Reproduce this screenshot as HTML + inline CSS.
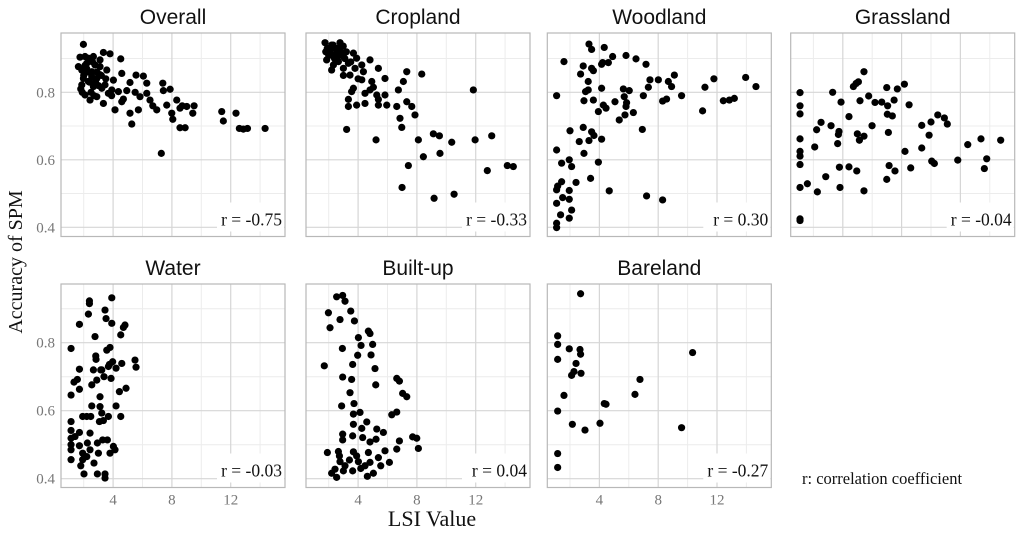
<!DOCTYPE html>
<html><head><meta charset="utf-8"><style>
html,body{margin:0;padding:0;background:#fff;width:1024px;height:537px;overflow:hidden}
svg{display:block}
</style></head><body>
<svg id="chart" width="1024" height="537" viewBox="0 0 1024 537" xmlns="http://www.w3.org/2000/svg">
<text x="0" y="0" transform="translate(22,262) rotate(-90)" text-anchor="middle" font-family="Liberation Serif, serif" font-size="20" fill="#111">Accuracy of SPM</text>
<text x="432" y="526" text-anchor="middle" font-family="Liberation Serif, serif" font-size="22" fill="#111">LSI Value</text>
<text x="802" y="484" font-family="Liberation Serif, serif" font-size="16.5" fill="#111">r: correlation coefficient</text>
</svg>
<script>
const panelNames = ["Overall","Cropland","Woodland","Grassland","Water","Built-up","Bareland"];
const rValues = ["-0.75","-0.33","0.30","-0.04","-0.03","0.04","-0.27"];
const xTicks = [4,8,12];
const xMinor = [2,6,10,14];
const yTicks = [0.4,0.6,0.8];
const yTickLabels = ["0.4","0.6","0.8"];
const yMinor = [0.5,0.7,0.9];

const overallX = [1.98,1.75,2.66,3.34,3.79,4.52,2.21,3.11,1.87,2.55,3.57,4.59,1.98,2.89,4.02,5.56,6.06,1.87,2.66,3.45,5.15,6.29,2.09,2.89,3.68,4.36,4.93,5.83,6.29,7.38,7.42,7.88,8.33,9.01,9.51,9.42,8.55,7.99,7.65,6.97,6.51,5.72,5.15,5.27,4.13,3.34,4.59,2.43,8.55,8.90,8.06,7.28,11.39,11.50,12.36,12.59,12.86,13.14,14.34,1.64,2.32,2.77,3.11,2.32,3.23,3.91,3.11,2.09,2.55,2.2,2.4,2.9,3.0,2.0,2.6,3.5,3.9,4.7,5.5,6.7,8.7,1.8,2.1,2.5,2.8,3.2,1.9,2.3,2.7];
const overallY = [0.942,0.904,0.906,0.918,0.914,0.899,0.886,0.876,0.866,0.861,0.866,0.856,0.841,0.841,0.836,0.851,0.848,0.822,0.817,0.822,0.829,0.827,0.792,0.787,0.797,0.802,0.805,0.787,0.797,0.827,0.805,0.809,0.777,0.758,0.760,0.738,0.753,0.738,0.762,0.748,0.777,0.748,0.738,0.706,0.748,0.767,0.772,0.777,0.695,0.695,0.720,0.619,0.743,0.715,0.738,0.693,0.691,0.693,0.693,0.876,0.901,0.881,0.852,0.832,0.812,0.807,0.896,0.906,0.846,0.87,0.83,0.86,0.82,0.85,0.89,0.84,0.79,0.78,0.80,0.76,0.76,0.81,0.88,0.80,0.83,0.85,0.80,0.86,0.79];

const croplandX = [1.75,2.77,2.09,2.54,3.00,1.86,2.32,3.68,3.90,4.81,4.25,2.20,3.00,3.79,4.36,5.38,3.45,4.25,4.93,5.83,3.68,4.81,3.56,4.47,5.27,5.83,6.74,7.08,7.31,8.33,3.34,3.90,3.34,4.47,5.38,5.95,6.63,7.31,7.65,7.87,6.85,6.97,3.22,5.22,8.10,9.12,9.53,10.37,11.96,13.09,8.44,9.57,7.42,6.99,9.17,10.53,11.84,12.79,14.15,14.56,2.99,2.32,2.66,3.34,5.04,5.38,2.0,2.5,3.2,2.2,4.0,3.0,1.9,2.1,2.4,2.6,2.8,3.1,3.5,1.8,2.3,2.7];
const croplandY = [0.947,0.947,0.925,0.916,0.906,0.896,0.881,0.916,0.901,0.896,0.881,0.866,0.871,0.871,0.861,0.871,0.851,0.837,0.832,0.841,0.812,0.807,0.802,0.797,0.792,0.792,0.807,0.832,0.861,0.854,0.779,0.762,0.758,0.767,0.762,0.762,0.758,0.772,0.758,0.733,0.723,0.696,0.690,0.659,0.659,0.677,0.671,0.652,0.659,0.671,0.609,0.619,0.583,0.518,0.486,0.498,0.807,0.568,0.583,0.580,0.937,0.906,0.891,0.886,0.815,0.779,0.91,0.93,0.92,0.94,0.84,0.85,0.93,0.92,0.90,0.93,0.92,0.90,0.89,0.92,0.94,0.91];

const woodlandX = [1.09,1.09,1.36,1.95,2.11,1.09,1.50,1.95,1.09,1.16,1.95,1.43,2.41,3.40,4.67,7.21,8.30,1.09,1.43,1.95,2.11,2.95,3.93,2.00,2.90,2.63,3.29,3.47,3.63,4.15,6.92,1.09,1.59,2.90,2.72,3.47,3.59,3.24,3.06,3.24,2.95,3.59,4.15,4.27,4.45,3.93,5.06,5.69,5.81,5.74,5.35,6.31,5.63,6.03,6.99,7.33,7.44,8.01,8.30,8.57,8.91,8.69,9.10,9.59,11.02,11.18,11.79,12.43,12.84,13.18,13.95,14.65,4.22,4.61,4.90,5.81,6.49,7.17,3.29,3.47,4.33,4.15,5.85];
const woodlandY = [0.399,0.412,0.437,0.427,0.451,0.471,0.488,0.483,0.511,0.522,0.509,0.535,0.533,0.545,0.508,0.493,0.481,0.629,0.590,0.600,0.580,0.619,0.593,0.686,0.696,0.654,0.657,0.683,0.672,0.661,0.690,0.790,0.891,0.878,0.854,0.871,0.864,0.832,0.802,0.807,0.775,0.777,0.812,0.762,0.753,0.743,0.772,0.787,0.758,0.733,0.718,0.740,0.810,0.805,0.790,0.815,0.837,0.837,0.774,0.780,0.817,0.832,0.851,0.790,0.745,0.815,0.840,0.775,0.777,0.782,0.844,0.817,0.888,0.888,0.906,0.909,0.899,0.883,0.943,0.927,0.933,0.883,0.769];

const grasslandX = [1.09,1.09,1.09,1.09,1.09,1.09,1.09,1.09,1.09,1.09,1.59,2.27,2.09,2.22,2.52,2.84,3.20,3.31,3.88,3.70,3.74,3.65,3.77,3.81,4.42,4.42,4.72,4.90,5.06,5.44,5.17,4.99,5.13,5.44,4.95,5.44,5.76,6.19,5.99,6.65,6.99,7.05,7.03,7.37,7.49,7.71,8.19,7.10,7.15,7.55,6.99,8.51,8.23,8.62,9.37,9.87,10.00,10.46,10.91,11.11,9.37,10.05,10.23,11.82,12.50,13.40,13.79,13.63,14.74];
const grasslandY = [0.799,0.760,0.736,0.662,0.625,0.611,0.586,0.518,0.425,0.420,0.529,0.505,0.638,0.689,0.711,0.550,0.701,0.800,0.771,0.675,0.684,0.648,0.578,0.518,0.728,0.579,0.817,0.826,0.831,0.861,0.775,0.677,0.658,0.670,0.567,0.508,0.789,0.770,0.701,0.771,0.814,0.760,0.735,0.730,0.777,0.810,0.824,0.681,0.583,0.567,0.542,0.763,0.625,0.576,0.702,0.673,0.712,0.733,0.724,0.706,0.635,0.596,0.589,0.599,0.645,0.662,0.603,0.574,0.658];

const waterX = [1.14,1.14,1.14,1.14,1.14,1.14,1.14,1.14,1.41,1.34,1.57,1.71,1.71,1.71,1.80,1.71,1.71,1.93,1.93,2.02,1.93,2.21,2.25,2.39,2.39,2.32,2.43,2.43,2.48,2.55,2.66,2.70,2.77,2.82,2.84,2.89,2.93,2.93,3.00,3.07,3.11,3.11,3.16,3.23,3.23,3.29,3.34,3.38,3.45,3.45,3.45,3.52,3.57,3.61,3.68,3.68,3.75,3.79,3.79,3.86,3.91,3.91,3.97,4.02,4.13,4.20,4.20,4.43,4.52,4.52,4.59,4.70,4.81,4.88,5.49,5.56,2.21,2.55];
const waterY = [0.783,0.646,0.568,0.542,0.519,0.500,0.485,0.456,0.524,0.684,0.692,0.722,0.663,0.854,0.438,0.497,0.536,0.583,0.456,0.414,0.475,0.465,0.505,0.915,0.923,0.884,0.485,0.534,0.583,0.676,0.720,0.446,0.818,0.761,0.751,0.690,0.414,0.505,0.475,0.568,0.612,0.641,0.720,0.593,0.720,0.514,0.571,0.700,0.414,0.402,0.896,0.871,0.778,0.514,0.730,0.583,0.736,0.786,0.475,0.695,0.932,0.857,0.744,0.495,0.485,0.725,0.614,0.656,0.823,0.583,0.739,0.845,0.852,0.666,0.749,0.728,0.583,0.614];

const builtupX = [2.54,2.95,3.11,1.98,2.77,3.50,3.75,2.09,4.70,4.81,4.02,4.20,4.99,2.93,3.97,4.88,3.63,1.70,5.15,2.95,3.56,5.20,6.63,6.81,3.45,7.03,7.31,2.88,3.72,3.68,4.13,6.29,6.63,3.68,4.59,4.25,5.27,5.72,2.95,2.95,3.63,4.31,4.81,5.22,6.81,7.71,7.99,8.10,6.63,5.83,1.91,2.73,3.68,4.70,5.38,6.13,2.77,3.41,4.02,4.81,5.54,2.20,2.54,3.00,3.63,4.18,4.63,5.04,2.43,3.11,3.90,4.47,2.66];
const builtupY = [0.935,0.939,0.922,0.888,0.868,0.893,0.864,0.844,0.834,0.827,0.815,0.792,0.795,0.783,0.763,0.764,0.736,0.732,0.724,0.699,0.692,0.676,0.695,0.687,0.653,0.651,0.641,0.614,0.621,0.590,0.595,0.588,0.596,0.560,0.567,0.548,0.546,0.536,0.531,0.514,0.526,0.521,0.508,0.516,0.511,0.523,0.519,0.489,0.487,0.482,0.477,0.467,0.479,0.477,0.462,0.448,0.450,0.455,0.450,0.448,0.438,0.416,0.404,0.423,0.423,0.430,0.407,0.416,0.428,0.438,0.467,0.438,0.480];

const barelandX = [2.72,1.16,1.16,1.16,1.95,2.68,2.72,2.41,2.27,2.11,2.75,1.59,1.16,2.16,3.02,4.04,4.33,4.45,6.42,6.76,10.34,9.59,1.16,1.16];
const barelandY = [0.944,0.820,0.795,0.751,0.782,0.780,0.766,0.739,0.715,0.704,0.710,0.645,0.599,0.560,0.543,0.563,0.621,0.619,0.648,0.692,0.771,0.550,0.474,0.433];

const seriesX = [overallX,croplandX,woodlandX,grasslandX,waterX,builtupX,barelandX];
const seriesY = [overallY,croplandY,woodlandY,grasslandY,waterY,builtupY,barelandY];

const NS = "http://www.w3.org/2000/svg";
const svg = document.getElementById("chart");
const lefts = [61,306,547.3,790.7];
const PW = 224;
const tops = [33,284];
const PH = 203.5;
const y08 = [92.3,342.7];
const ySlope = [337.5,340];

function mk(tag, attrs, parent){
  const e = document.createElementNS(NS, tag);
  for (const k in attrs) e.setAttribute(k, attrs[k]);
  (parent||svg).appendChild(e);
  return e;
}

panelNames.forEach((name, i) => {
  const row = i < 4 ? 0 : 1;
  const col = i < 4 ? i : i - 4;
  const L = lefts[col], T = tops[row], R = L + PW, B = T + PH;
  const xs = v => L - 6.7 + v * 14.7;
  const ys = v => y08[row] - (v - 0.8) * ySlope[row];
  const g = mk("g", {});
  
  
  const clipId = "clip" + i;
  const cp = mk("clipPath", {id: clipId}, g);
  mk("rect", {x: L, y: T, width: PW, height: PH}, cp);
  const grid = mk("g", {"clip-path": "url(#" + clipId + ")"}, g);
  
  
  yMinor.forEach(v => {
    const l = mk("line", {x1: L, x2: R, y1: ys(v), y2: ys(v), stroke: "#ececec", "stroke-width": 1}, grid);
    
    
  });
  xMinor.forEach(v => {
    const l = mk("line", {x1: xs(v), x2: xs(v), y1: T, y2: B, stroke: "#ececec", "stroke-width": 1}, grid);
    
    
  });
  yTicks.forEach(v => {
    const l = mk("line", {x1: L, x2: R, y1: ys(v), y2: ys(v), stroke: "#d6d6d6", "stroke-width": 1.2}, grid);
    
    
  });
  xTicks.forEach(v => {
    const l = mk("line", {x1: xs(v), x2: xs(v), y1: T, y2: B, stroke: "#d6d6d6", "stroke-width": 1.2}, grid);
    
    
  });
  const box = mk("rect", {x: R - 68, y: B - 34, width: 67, height: 29, fill: "#fff"}, g);
  
  
  const border = mk("rect", {x: L, y: T, width: PW, height: PH, fill: "none", stroke: "#b8b8b8", "stroke-width": 1.2}, g);
  
  
  const title = mk("text", {x: L + PW / 2, y: T - 9, "text-anchor": "middle", "font-family": "Liberation Sans, sans-serif", "font-size": 21, fill: "#111"}, g);
  title.textContent = name;
  
  
  const dots = mk("g", {fill: "#000"}, g);
  
  
  seriesX[i].forEach((xv, k) => {
    const c = mk("circle", {cx: xs(xv), cy: ys(seriesY[i][k]), r: 3.6}, dots);
    
    
  });
  const rt = mk("text", {x: R - 3, y: B - 11, "text-anchor": "end", "font-family": "Liberation Serif, serif", "font-size": 17.5, fill: "#111"}, g);
  rt.textContent = "r = " + rValues[i];
  
  
  if (col === 0) {
    yTicks.forEach((v, k) => {
      const t = mk("text", {x: L - 6, y: ys(v) + 5, "text-anchor": "end", "font-family": "Liberation Serif, serif", "font-size": 15, fill: "#777"}, g);
      t.textContent = yTickLabels[k];
      
      
    });
  }
  if (row === 1) {
    xTicks.forEach(v => {
      const t = mk("text", {x: xs(v), y: B + 17, "text-anchor": "middle", "font-family": "Liberation Serif, serif", "font-size": 15, fill: "#777"}, g);
      t.textContent = String(v);
      
      
    });
  }
});
</script>
</body></html>
